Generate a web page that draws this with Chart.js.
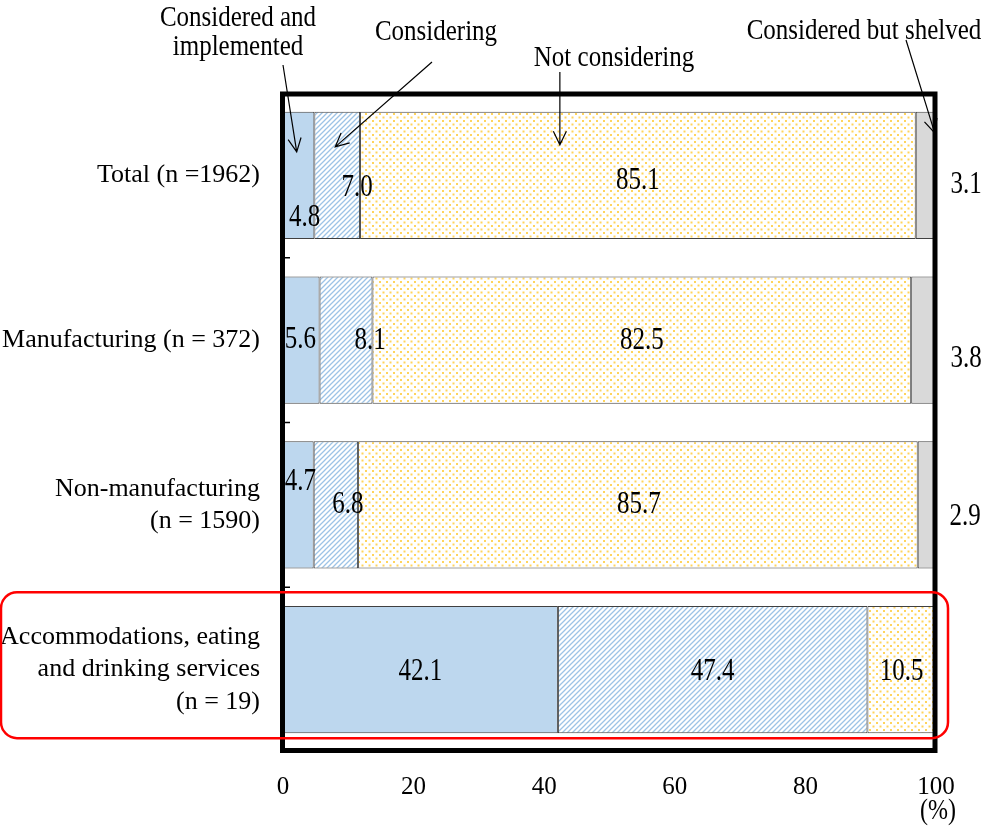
<!DOCTYPE html>
<html>
<head>
<meta charset="utf-8">
<script src="https://cdn.jsdelivr.net/npm/chart.js@4.4.1/dist/chart.umd.min.js"></script>
<style>
  html, body { margin: 0; padding: 0; background: #fff; }
  #wrap { width: 989px; height: 826px; position: relative; }
</style>
</head>
<body>
<div id="wrap"><canvas id="barCanvas"></canvas></div>
<script>
// categories (y axis) and the four answer shares in %
const categories = [
    'Total (n =1962)',
    'Manufacturing (n = 372)',
    ['Non-manufacturing', '(n = 1590)'],
    ['Accommodations, eating', 'and drinking services', '(n = 19)']
];
const seriesNames = ['Considered and implemented', 'Considering', 'Not considering', 'Considered but shelved'];
const implemented = [4.8, 5.6, 4.7, 42.1];
const considering = [7.0, 8.1, 6.8, 47.4];
const notConsidering = [85.1, 82.5, 85.7, 10.5];
const shelved = [3.1, 3.8, 2.9, null];
const xTicks = [0, 20, 40, 60, 80, 100];

// small nudges for the value labels [dx, dy], one row per series
const labelNudge = [
    [[6, 42], [-1, -1], [2, -23], [0, 2]],
    [[20, 12], [24, 0], [12, 0], [0, 2]],
    [[0, 5], [0, 0], [1, 0], [0, 2]],
    [[0, 9], [0, 18], [-1, 12], [0, 0]]
];

const FONT = '"Liberation Serif", "Times New Roman", serif';

function hatchPattern() {
    const c = document.createElement('canvas');
    c.width = 5; c.height = 5;
    const g = c.getContext('2d');
    g.fillStyle = '#fff';
    g.fillRect(0, 0, 5, 5);
    g.strokeStyle = '#9DC3E6';
    g.lineWidth = 1.3;
    g.beginPath();
    g.moveTo(-1, 6); g.lineTo(6, -1);
    g.moveTo(-3.5, 3.5); g.lineTo(3.5, -3.5);
    g.moveTo(1.5, 8.5); g.lineTo(8.5, 1.5);
    g.stroke();
    return g.createPattern(c, 'repeat');
}

function dotPattern() {
    const c = document.createElement('canvas');
    c.width = 7; c.height = 7;
    const g = c.getContext('2d');
    g.fillStyle = '#fff';
    g.fillRect(0, 0, 7, 7);
    g.fillStyle = '#FFD45C';
    g.fillRect(1, 1, 2, 2);
    g.fillRect(4.5, 4.5, 2, 2);
    return g.createPattern(c, 'repeat');
}

function arrow(ctx, x1, y1, x2, y2) {
    const a = Math.atan2(y2 - y1, x2 - x1);
    const len = 15, spread = 0.45;
    ctx.beginPath();
    ctx.moveTo(x1, y1);
    ctx.lineTo(x2, y2);
    ctx.moveTo(x2 - len * Math.cos(a - spread), y2 - len * Math.sin(a - spread));
    ctx.lineTo(x2, y2);
    ctx.lineTo(x2 - len * Math.cos(a + spread), y2 - len * Math.sin(a + spread));
    ctx.stroke();
}

// text drawn a bit taller than wide, like the narrow serif of the labels
function tallText(ctx, text, x, y, sy) {
    ctx.save();
    ctx.translate(x, y);
    ctx.scale(1, sy);
    ctx.fillText(text, 0, 0);
    ctx.restore();
}

// frame, value labels, callouts and the red highlight
const decorations = {
    id: 'decorations',
    afterDatasetsDraw(chart) {
        const ctx = chart.ctx;
        const area = chart.chartArea;
        const x = chart.scales.x;
        const y = chart.scales.y;

        // small ticks between categories
        ctx.save();
        ctx.strokeStyle = '#000';
        ctx.lineWidth = 1.5;
        for (let i = 0; i < categories.length - 1; i++) {
            const yy = (y.getPixelForValue(i) + y.getPixelForValue(i + 1)) / 2;
            ctx.beginPath();
            ctx.moveTo(area.left, yy);
            ctx.lineTo(area.left + 7, yy);
            ctx.stroke();
        }

        // thick frame
        ctx.lineWidth = 5;
        ctx.strokeRect(area.left - 0.5, area.top + 1, area.right - area.left - 0.5, area.bottom - area.top - 2.5);

        // value labels
        ctx.fillStyle = '#000';
        ctx.font = '25px ' + FONT;
        ctx.textAlign = 'center';
        ctx.textBaseline = 'middle';
        chart.data.datasets.forEach((ds, i) => {
            const meta = chart.getDatasetMeta(i);
            ds.data.forEach((v, j) => {
                if (v === null) return;
                const el = meta.data[j];
                let lx = i === 3 ? area.right + 30 : (el.x + el.base) / 2;
                let ly = el.y;
                lx += labelNudge[i][j][0];
                ly += labelNudge[i][j][1];
                tallText(ctx, v.toFixed(1), lx, ly, 1.3);
            });
        });

        // callouts over the first bar
        const first = chart.getDatasetMeta(0).data[0];
        const top = first.y - first.height / 2;
        ctx.font = '25px ' + FONT;
        tallText(ctx, 'Considered and', 238, 18, 1.2);
        tallText(ctx, 'implemented', 238, 47, 1.2);
        tallText(ctx, seriesNames[1], 436, 32, 1.2);
        tallText(ctx, seriesNames[2], 614, 58, 1.2);
        tallText(ctx, seriesNames[3], 864, 31, 1.2);

        ctx.strokeStyle = '#000';
        ctx.lineWidth = 1.2;
        arrow(ctx, 283, 65, x.getPixelForValue(2.1), top + 40);
        arrow(ctx, 432, 62, x.getPixelForValue(8.0), top + 35);
        arrow(ctx, x.getPixelForValue(42.4), 72, x.getPixelForValue(42.4), top + 33);
        arrow(ctx, 906, 40, x.getPixelForValue(99.8), top + 21);

        // "(%)" under the last tick
        ctx.font = '24px ' + FONT;
        tallText(ctx, '(%)', x.getPixelForValue(100) + 2, area.bottom + 59, 1.2);

        // red rounded box round the last category
        const last = chart.getDatasetMeta(0).data[categories.length - 1];
        ctx.strokeStyle = '#FF0000';
        ctx.lineWidth = 2.5;
        ctx.beginPath();
        ctx.roundRect(1, last.y - 77.5, area.right + 11, 146, 16);
        ctx.stroke();
        ctx.restore();
    }
};

const ctx = document.getElementById('barCanvas').getContext('2d');
new Chart(ctx, {
    type: 'bar',
    data: {
        labels: categories,
        datasets: [
            { label: seriesNames[0], data: implemented, backgroundColor: '#BDD7EE' },
            { label: seriesNames[1], data: considering, backgroundColor: hatchPattern() },
            { label: seriesNames[2], data: notConsidering, backgroundColor: dotPattern() },
            { label: seriesNames[3], data: shelved, backgroundColor: '#D9D9D9' }
        ].map(d => Object.assign(d, {
            borderColor: '#404040',
            borderWidth: 1,
            borderSkipped: false,
            barPercentage: 0.771,
            categoryPercentage: 1
        }))
    },
    options: {
        indexAxis: 'y',
        responsive: true,
        maintainAspectRatio: false,
        animation: false,
        layout: { padding: { top: 93, right: 53, left: 0, bottom: 0 } },
        plugins: {
            legend: { display: false },
            tooltip: { enabled: false }
        },
        scales: {
            x: {
                stacked: true,
                min: 0,
                max: 100,
                afterBuildTicks: axis => { axis.ticks = xTicks.map(v => ({ value: v })); },
                afterFit: axis => { axis.height = 74; },
                grid: { display: false, drawTicks: false },
                border: { display: false },
                ticks: { color: '#000', padding: 20, font: { family: FONT, size: 25 } }
            },
            y: {
                stacked: true,
                afterFit: axis => { axis.width = 283; },
                grid: { display: false, drawTicks: false },
                border: { display: false },
                ticks: { color: '#000', padding: 23, font: { family: FONT, size: 26, lineHeight: 1.24 } }
            }
        }
    },
    plugins: [decorations]
});
</script>
</body>
</html>
